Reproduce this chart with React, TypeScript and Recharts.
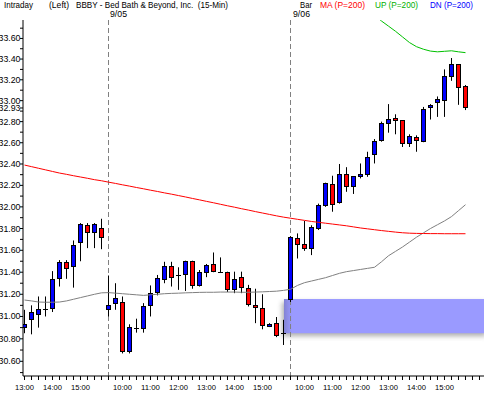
import {
  ComposedChart,
  Bar,
  Line,
  XAxis,
  YAxis,
  ReferenceArea,
} from "recharts";

// 15-min bars: 9/04 13:00-15:45, 9/05 09:30-15:45, 9/06 09:30-15:45
const opens = [
  30.9, 30.97, 31.02, 31.06, 31.07, 31.34, 31.49, 31.45, 31.67, 31.825, 31.765, 31.8,
  31.065, 31.12, 31.13, 30.69, 30.89, 30.89, 31.1, 31.22, 31.335, 31.45, 31.365, 31.375,
  31.495, 31.275, 31.4, 31.47, 31.4, 31.4, 31.245, 31.355, 31.255, 31.1, 31.07, 30.91,
  30.94, 30.85,
  31.157, 31.71, 31.657, 31.62, 31.8, 32.01, 32.21, 32.04, 32.3, 32.185, 32.28, 32.305,
  32.49, 32.625, 32.78, 32.83, 32.807, 32.594, 32.65, 32.615, 32.93, 32.98, 33.0, 33.235,
  33.35, 33.14,
];
const highs = [
  31.06, 31.1, 31.18, 31.18, 31.41, 31.51, 31.51, 31.69, 31.85, 31.85, 31.85, 31.89,
  31.37, 31.3, 31.18, 30.93, 30.98, 31.12, 31.28, 31.375, 31.495, 31.495, 31.445, 31.505,
  31.505, 31.42, 31.475, 31.58, 31.535, 31.405, 31.405, 31.405, 31.285, 31.25, 31.2, 30.94,
  30.995, 30.97,
  31.73, 31.755, 31.87, 31.83, 32.03, 32.225, 32.29, 32.4, 32.37, 32.285, 32.405, 32.515,
  32.635, 32.8, 32.967, 32.87, 32.815, 32.68, 32.67, 32.94, 32.967, 33.04, 33.3, 33.41,
  33.35, 33.15,
];
const lows = [
  30.85, 30.84, 30.9, 31.0, 31.04, 31.27, 31.34, 31.26, 31.5, 31.62, 31.62, 31.61,
  31.0, 31.06, 30.67, 30.67, 30.855, 30.855, 31.0, 31.19, 31.3, 31.27, 31.24, 31.23,
  31.25, 31.27, 31.355, 31.4, 31.4, 31.22, 31.21, 31.21, 31.09, 30.94, 30.885, 30.905,
  30.815, 30.745,
  31.13, 31.525, 31.595, 31.556, 31.786, 32.0, 31.955, 32.03, 32.14, 32.12, 32.265, 32.28,
  32.405, 32.61, 32.695, 32.68, 32.56, 32.56, 32.515, 32.605, 32.82, 32.845, 32.845, 33.19,
  32.96, 32.91,
];
const closes = [
  30.925, 31.04, 31.06, 31.065, 31.33, 31.49, 31.435, 31.64, 31.84, 31.765, 31.84, 31.72,
  31.1, 31.16, 30.69, 30.9, 30.895, 31.09, 31.21, 31.34, 31.455, 31.355, 31.37, 31.495,
  31.275, 31.4, 31.465, 31.405, 31.4, 31.245, 31.33, 31.265, 31.11, 31.08, 30.915, 30.93,
  30.83, 30.85,
  31.72, 31.657, 31.62, 31.81, 32.017, 32.22, 32.023, 32.3, 32.185, 32.28, 32.305, 32.46,
  32.61, 32.78, 32.82, 32.807, 32.594, 32.656, 32.62, 32.917, 32.95, 33.01, 33.235, 33.35,
  33.13, 32.935,
];

// MA (P=200)
const maValues = [
  32.39, 32.375, 32.36, 32.345, 32.33, 32.315, 32.303, 32.29, 32.278, 32.266, 32.253, 32.243,
  32.23, 32.218, 32.205, 32.193, 32.18, 32.168, 32.155, 32.143, 32.13, 32.118, 32.105, 32.092,
  32.078, 32.065, 32.051, 32.038, 32.024, 32.01, 31.997, 31.983, 31.97, 31.956, 31.943, 31.93,
  31.917, 31.905,
  31.895, 31.885, 31.875, 31.865, 31.857, 31.849, 31.841, 31.833, 31.825, 31.815, 31.805, 31.797,
  31.789, 31.781, 31.774, 31.767, 31.761, 31.757, 31.755, 31.754, 31.753, 31.753, 31.752, 31.752,
  31.752, 31.752,
];
// gray average
const avgValues = [
  31.148, 31.14, 31.13, 31.128, 31.128, 31.13, 31.14, 31.155, 31.17, 31.185, 31.2, 31.213,
  31.215, 31.21, 31.205, 31.2, 31.195, 31.19, 31.195, 31.2, 31.205, 31.208, 31.21, 31.213,
  31.215, 31.217, 31.218, 31.218, 31.22, 31.22, 31.22, 31.218, 31.218, 31.22, 31.222, 31.225,
  31.228, 31.235,
  31.245, 31.28, 31.305, 31.32, 31.335, 31.35, 31.37, 31.39, 31.405, 31.415, 31.425, 31.435,
  31.445, 31.495, 31.55, 31.59, 31.63, 31.675, 31.72, 31.76, 31.8, 31.835, 31.87, 31.91,
  31.965, 32.02,
];
// UP (P=200), only the tail is inside the plot
const upValues: (number | null)[] = [
  ...Array(48).fill(null),
  33.93, 33.88, 33.83, 33.77, 33.72, 33.67, 33.615, 33.56, 33.52, 33.495, 33.477, 33.47,
  33.475, 33.48, 33.47, 33.462,
];

const hourTickIdx = [0, 4, 8, 14, 18, 22, 26, 30, 34, 40, 44, 48, 52, 56, 60];
const hourTickText = [
  "13:00", "14:00", "15:00",
  "10:00", "11:00", "12:00", "13:00", "14:00", "15:00",
  "10:00", "11:00", "12:00", "13:00", "14:00", "15:00",
];
const dayStartIdx = [12, 38];
const dayText = ["9/05", "9/06"];

const priceLabels = [
  33.6, 33.4, 33.2, 33.0, 32.8, 32.6, 32.4, 32.2, 32.0, 31.8, 31.6, 31.4, 31.2, 31.0, 30.8, 30.6,
];
const priceMinor = [
  33.7, 33.5, 33.3, 33.1, 32.9, 32.7, 32.5, 32.3, 32.1, 31.9, 31.7, 31.5, 31.3, 31.1, 30.9, 30.7, 30.5,
];
const lastPrice = 32.93;

const zoneLow = 30.85;
const zoneHigh = 31.157;

const rows = opens.map((o, i) => ({
  i,
  o,
  h: highs[i],
  l: lows[i],
  c: closes[i],
  ma: maValues[i],
  avg: avgValues[i],
  up: upValues[i],
}));

const xTicks = Array.from({ length: 66 }, (_, k) => k);
const FONT = "'Liberation Sans', Arial, sans-serif";

function Candle(props: any) {
  const { x, y, width, height, payload, background } = props;
  if (!payload || height == null || isNaN(y)) return null;
  const { o, h, l, c } = payload;
  const cx = Math.floor(x + width / 2) + 0.5;
  const span = Math.log(h) - Math.log(l);
  const py = (p: number) => y + (height * (Math.log(h) - Math.log(p))) / span;
  const snap = (v: number) => Math.round(v - 0.5) + 0.5;
  const top = snap(py(Math.max(o, c)));
  const bot = snap(py(Math.min(o, c)));
  const fill = c >= o ? "#0000ff" : "#ff0000";
  // day separator sits behind the first bar of each session
  const plotTop = background?.y ?? 20;
  const plotBottom = background ? background.y + background.height : 376;
  return (
    <g>
      {dayStartIdx.includes(payload.i) && (
        <line x1={cx} x2={cx} y1={plotTop} y2={plotBottom} stroke="#808080" strokeDasharray="5 3" />
      )}
      <line x1={cx} x2={cx} y1={py(h)} y2={py(l)} stroke="#000" strokeWidth={1} />
      {Math.abs(o - c) < 0.01 ? (
        <line x1={cx - 2.5} x2={cx + 2.5} y1={top} y2={top} stroke="#000" strokeWidth={1} />
      ) : (
        <rect x={cx - 2} y={top} width={4} height={Math.max(bot - top, 1)} fill={fill} stroke="#000" strokeWidth={1} />
      )}
    </g>
  );
}

function Zone(props: any) {
  const { x, y, width, height } = props;
  if (x == null) return null;
  return (
    <g>
      <defs>
        <filter id="zoneBlur" x="-20%" y="-50%" width="140%" height="200%">
          <feGaussianBlur stdDeviation="2.5" />
        </filter>
        <linearGradient id="zoneEdge" x1="0" x2="1" y1="0" y2="0">
          <stop offset="0" stopColor="#7070b0" stopOpacity={0.55} />
          <stop offset="1" stopColor="#7070b0" stopOpacity={0} />
        </linearGradient>
      </defs>
      <rect x={x - 2} y={y + 3} width={width + 4} height={height} fill="#707070" opacity={0.55} filter="url(#zoneBlur)" />
      <rect x={x} y={y} width={width} height={height} fill="#9a9aff" />
      <rect x={x} y={y} width={8} height={height} fill="url(#zoneEdge)" />
    </g>
  );
}

function TimeTick(props: any) {
  const { x, y, payload } = props;
  const k = hourTickIdx.indexOf(payload.value);
  if (k < 0) return null;
  return (
    <text x={x} y={y + 10} textAnchor="middle" fontSize={8} fontFamily={FONT} fill="#000" textLength={19} lengthAdjust="spacingAndGlyphs">
      {hourTickText[k]}
    </text>
  );
}

function PriceTick(props: any) {
  const { x, y, payload } = props;
  const v = payload.value;
  if (Math.abs(v - lastPrice) < 0.001) {
    return (
      <g>
        <rect x={0} y={y - 3} width={x} height={7} fill="#fff" />
        <text x={x + 0.5} y={y + 3.5} textAnchor="end" fontSize={8.5} fontFamily={FONT} fill="#000" textLength={22} lengthAdjust="spacingAndGlyphs">
          {v.toFixed(2)}
        </text>
      </g>
    );
  }
  if (!priceLabels.some((p) => Math.abs(p - v) < 0.001)) return null;
  return (
    <text x={x + 0.5} y={y + 3} textAnchor="end" fontSize={8.5} fontFamily={FONT} fill="#000" textLength={22} lengthAdjust="spacingAndGlyphs">
      {v.toFixed(2)}
    </text>
  );
}

function Header() {
  const t = (x: number, y: number, s: string, len: number, color = "#000") => (
    <text x={x} y={y} fontSize={9} fontFamily={FONT} fill={color} textLength={len} lengthAdjust="spacingAndGlyphs" style={{ whiteSpace: "pre" }}>
      {s}
    </text>
  );
  return (
    <svg width={484} height={20} style={{ position: "absolute", left: 0, top: 0, pointerEvents: "none" }}>
      {t(4, 8, "Intraday", 29)}
      {t(49, 8, "(Left)", 20)}
      {t(76, 8, "BBBY - Bed Bath & Beyond, Inc.  (15-Min)", 152)}
      {t(300, 8, "Bar", 12)}
      {t(320, 8, "MA (P=200)", 45, "#ff0000")}
      {t(375, 8, "UP (P=200)", 43, "#00b000")}
      {t(430, 8, "DN (P=200)", 43, "#0000ff")}
      {t(110, 17, dayText[0], 17)}
      {t(293, 17, dayText[1], 17)}
    </svg>
  );
}

export default function App() {
  const yTicks = [...priceLabels, ...priceMinor, lastPrice].sort((a, b) => b - a);
  return (
    <div style={{ position: "absolute", left: 0, top: 0, width: 484, height: 393, background: "#fff" }}>
      <ComposedChart width={484} height={393} data={rows} margin={{ top: 20, right: 0, bottom: 0, left: 0 }}>
        <XAxis
          dataKey="i"
          type="number"
          domain={[-0.2143, 65.643]}
          allowDataOverflow
          ticks={xTicks}
          interval={0}
          tick={<TimeTick />}
          tickSize={4}
          tickMargin={0}
          height={17}
          stroke="#000"
          tickLine={{ stroke: "#000" }}
        />
        <YAxis
          scale="log"
          type="number"
          domain={[30.47, 33.78]}
          allowDataOverflow
          ticks={yTicks}
          interval={0}
          tick={<PriceTick />}
          tickSize={3}
          tickMargin={0}
          width={23}
          stroke="#000"
          tickLine={{ stroke: "#000" }}
        />
        <ReferenceArea x1={37.07} x2={65.643} y1={zoneLow} y2={zoneHigh} shape={<Zone />} ifOverflow="hidden" />
        <Line dataKey="avg" stroke="#808080" strokeWidth={1} dot={false} isAnimationActive={false} />
        <Line dataKey="ma" stroke="#ff0000" strokeWidth={1} dot={false} isAnimationActive={false} />
        <Line dataKey="up" stroke="#00c000" strokeWidth={1} dot={false} isAnimationActive={false} />
        <Bar dataKey={(d: any) => [d.l, d.h]} barSize={5} shape={<Candle />} isAnimationActive={false} />
      </ComposedChart>
      <Header />
    </div>
  );
}
